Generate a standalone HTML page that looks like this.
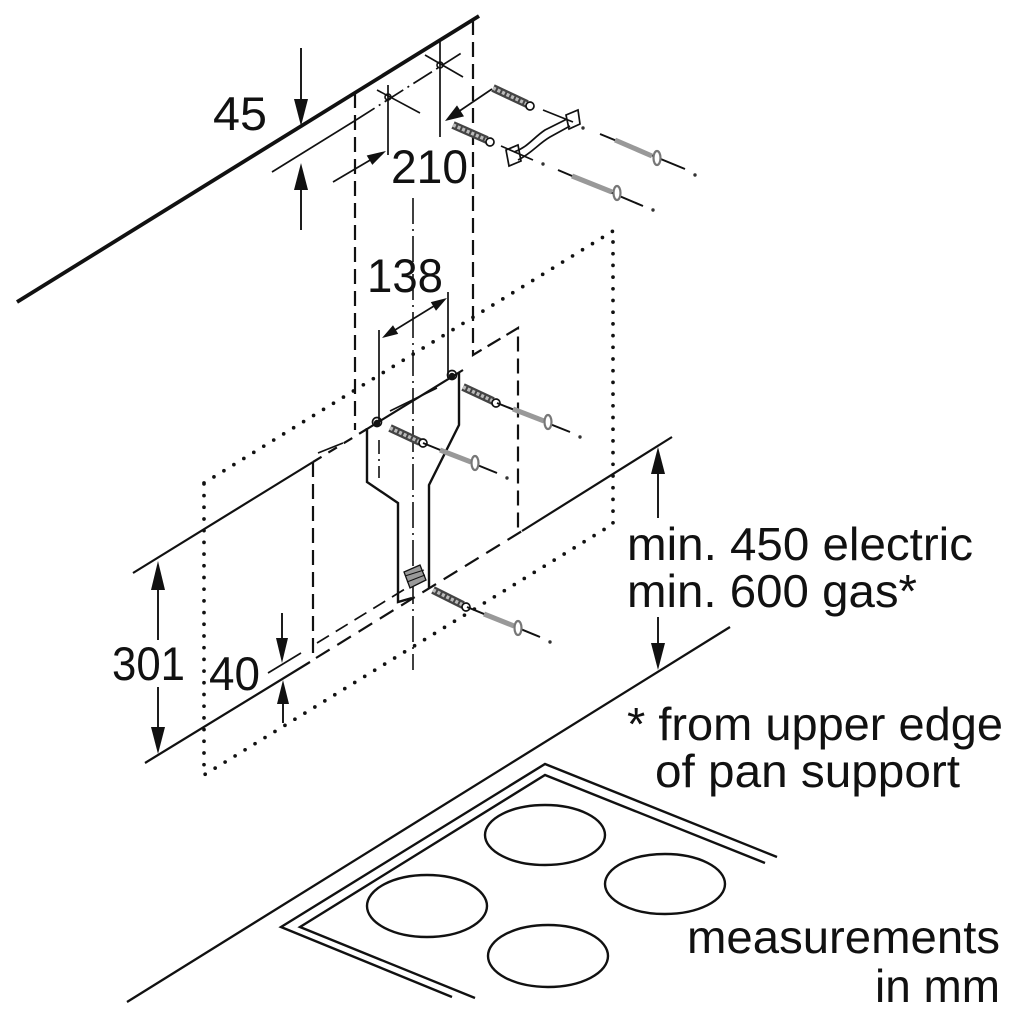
<!DOCTYPE html>
<html>
<head>
<meta charset="utf-8">
<style>
html,body{margin:0;padding:0;background:#fff;}
svg{display:block;}
</style>
</head>
<body>
<svg width="1024" height="1024" viewBox="0 0 1024 1024" xmlns="http://www.w3.org/2000/svg">
<rect width="1024" height="1024" fill="#fff"/>

<g stroke="#111" fill="none" stroke-width="2.2">
  <!-- wall / ceiling line -->
  <line x1="17" y1="302" x2="479" y2="16" stroke-width="3.8"/>

  <!-- 45 dimension -->
  <line x1="301" y1="48" x2="301" y2="104" stroke-width="1.9"/>
  <line x1="301" y1="186" x2="301" y2="230" stroke-width="1.9"/>
  <!-- hole axis line -->
  <line x1="272" y1="172" x2="356" y2="120" stroke-width="1.7"/>
  <line x1="356" y1="120" x2="463" y2="52" stroke-width="1.7" stroke-dasharray="22 5 2 5"/>
  <!-- crosshairs -->
  <line x1="377" y1="90" x2="420" y2="113" stroke-width="1.6"/>
  <line x1="425" y1="55" x2="463" y2="77" stroke-width="1.6"/>
  <line x1="388" y1="85" x2="388" y2="155" stroke-width="1.7"/>
  <line x1="440" y1="40" x2="440" y2="137" stroke-width="1.7"/>
  <circle cx="388" cy="97" r="3" stroke-width="1.6"/>
  <circle cx="440" cy="65" r="3" stroke-width="1.6"/>

  <!-- 210 dimension lines -->
  <line x1="333" y1="182" x2="372" y2="159" stroke-width="1.7"/>
  <line x1="492" y1="89" x2="458" y2="112" stroke-width="1.7"/>

  <!-- dashed chimney outline -->
  <line x1="355" y1="93" x2="355" y2="430" stroke-dasharray="15 7"/>
  <path d="M473,20 V355 L518,328 V530" stroke-dasharray="15 7"/>
  <line x1="313" y1="462" x2="313" y2="660" stroke-dasharray="15 7"/>

  <!-- centre dash-dot -->
  <line x1="413" y1="198" x2="413" y2="670" stroke-width="1.6" stroke-dasharray="26 5 2 5"/>
  <line x1="379" y1="440" x2="379" y2="478" stroke-width="1.6" stroke-dasharray="14 5 2 5"/>

  <!-- 138 dimension -->
  <line x1="379" y1="330" x2="379" y2="425" stroke-width="1.7"/>
  <line x1="448" y1="292" x2="448" y2="378" stroke-width="1.7"/>
  <line x1="395" y1="330" x2="434" y2="306" stroke-width="1.7"/>

  <!-- dotted hood outline -->
  <path d="M204,483 L613,231 L613,524 L204,775 Z" stroke-width="3.7" stroke-linecap="round" stroke-dasharray="0 11.7"/>

  <!-- upper main line (301 top) -->
  <line x1="133" y1="573" x2="313" y2="462"/>
  <line x1="313" y1="462" x2="367" y2="429" stroke-dasharray="10 8"/>
  <line x1="367" y1="429" x2="463" y2="370"/>
  <line x1="390" y1="411" x2="437" y2="388" stroke-width="1.6"/>
  <line x1="318" y1="453" x2="343" y2="443" stroke-width="1.6"/>

  <!-- lower main line (301 bottom) -->
  <line x1="145" y1="763" x2="310" y2="662"/>
  <line x1="316" y1="658" x2="522" y2="531" stroke-dasharray="16 9"/>
  <line x1="522" y1="531" x2="672" y2="437"/>

  <!-- 40 extension line -->
  <line x1="268" y1="673" x2="301" y2="653" stroke-width="1.7"/>
  <line x1="317" y1="643" x2="405" y2="589" stroke-width="1.7" stroke-dasharray="14 8"/>

  <!-- 301 arrows shafts -->
  <line x1="158" y1="588" x2="158" y2="640" stroke-width="1.9"/>
  <line x1="158" y1="687" x2="158" y2="730" stroke-width="1.9"/>
  <!-- 40 arrows shafts -->
  <line x1="282" y1="613" x2="282" y2="642" stroke-width="1.9"/>
  <line x1="283" y1="700" x2="283" y2="723" stroke-width="1.9"/>
  <!-- min 450 arrows shafts -->
  <line x1="658" y1="470" x2="658" y2="518" stroke-width="1.9"/>
  <line x1="658" y1="617" x2="658" y2="648" stroke-width="1.9"/>

  <!-- bracket -->
  <path d="M367,428 L367,482 L398,503 L398,602 L412,598" stroke-width="2.4"/>
  <path d="M459,373 L459,425 L429,485 L429,588" stroke-width="2.4"/>
  <circle cx="377" cy="422" r="4.5" stroke-width="1.7"/>
  <circle cx="452" cy="375" r="4.5" stroke-width="1.7"/>
  <path d="M404,572 L420,565 L426,580 L410,588 Z" fill="#999" stroke-width="1.3"/>
  <line x1="405" y1="576" x2="424" y2="570" stroke-width="1"/>
  <line x1="407" y1="582" x2="425" y2="575" stroke-width="1"/>

  <!-- cooktop -->
  <line x1="127" y1="1002" x2="730" y2="627" stroke-width="2.3"/>
  <path d="M452,997 L281,927 L545,764 L777,857" stroke-width="2.4"/>
  <path d="M475,998 L300,927 L545,775 L765,863" stroke-width="2.4"/>
  <ellipse cx="545" cy="835" rx="60" ry="30" stroke-width="2.4"/>
  <ellipse cx="427" cy="906" rx="60" ry="31" stroke-width="2.4"/>
  <ellipse cx="548" cy="956" rx="60" ry="31" stroke-width="2.4"/>
  <ellipse cx="665" cy="884" rx="60" ry="30" stroke-width="2.4"/>
</g>

<!-- arrowheads -->
<g fill="#111" stroke="none">
  <polygon points="301,126 294,99 308,99"/>
  <polygon points="301,163 294,190 308,190"/>
  <polygon points="158,561 151,590 165,590"/>
  <polygon points="158,754 151,727 165,727"/>
  <polygon points="282,663 276,638 288,638"/>
  <polygon points="283,680 277,704 289,704"/>
  <polygon points="658,447 651,474 665,474"/>
  <polygon points="658,670 651,643 665,643"/>
  <!-- 210 -->
  <polygon points="386,151 372.3,164.9 366.7,155.5"/>
  <polygon points="445,121 464.0,116.4 457.0,105.4"/>
  <!-- 138 -->
  <polygon points="382,338 398.2,333.9 393.0,325.3"/>
  <polygon points="447,298 436.0,310.7 430.8,302.1"/>
  <!-- hole blobs -->
  <circle cx="377" cy="423" r="3.2"/>
  <circle cx="452" cy="376" r="3.2"/>
</g>

<!-- screws and dowels -->
<g stroke-linecap="butt">
  <!-- dowels: dark outline + light core -->
  <g stroke="#444" stroke-width="8">
    <line x1="493" y1="88" x2="527" y2="104"/>
    <line x1="453" y1="125" x2="487" y2="140"/>
    <line x1="463" y1="387" x2="493" y2="401"/>
    <line x1="390" y1="428" x2="420" y2="442"/>
    <line x1="433" y1="590" x2="463" y2="605"/>
  </g>
  <g stroke="#bbb" stroke-width="3.5" stroke-dasharray="3 2">
    <line x1="493" y1="88" x2="527" y2="104"/>
    <line x1="453" y1="125" x2="487" y2="140"/>
    <line x1="463" y1="387" x2="493" y2="401"/>
    <line x1="390" y1="428" x2="420" y2="442"/>
    <line x1="433" y1="590" x2="463" y2="605"/>
  </g>
  <g fill="#fff" stroke="#111" stroke-width="1.7">
    <circle cx="530" cy="106" r="4"/>
    <circle cx="490" cy="142" r="4"/>
    <circle cx="496" cy="403" r="4"/>
    <circle cx="423" cy="443" r="4"/>
    <circle cx="466" cy="607" r="4"/>
  </g>

  <g stroke="#111" fill="none" stroke-width="1.7">
    <path d="M506,150 L518,145 L521,161 L509,166 Z"/>
    <path d="M566,115 L578,110 L580,124 L569,129 Z"/>
    <path d="M514,152 C528,147 533,138 545,130 L567,119"/>
    <path d="M518,160 C532,153 538,144 550,137 L570,126"/>
    <line x1="543" y1="110" x2="573" y2="122"/>
    <line x1="501" y1="146" x2="533" y2="160"/>
    <line x1="600" y1="134" x2="685" y2="169" stroke-width="2"/>
    <line x1="558" y1="170" x2="643" y2="206" stroke-width="2"/>
    <line x1="497" y1="403" x2="570" y2="432" stroke-width="2"/>
    <line x1="423" y1="443" x2="497" y2="473" stroke-width="2"/>
    <line x1="467" y1="607" x2="540" y2="637" stroke-width="2"/>
  </g>
  <g stroke="#999" stroke-width="5">
    <line x1="615" y1="140" x2="652" y2="156"/>
    <line x1="572" y1="176" x2="612" y2="192"/>
    <line x1="513" y1="409" x2="544" y2="421"/>
    <line x1="440" y1="450" x2="471" y2="462"/>
    <line x1="484" y1="614" x2="514" y2="626"/>
  </g>
  <g fill="#fff" stroke="#777" stroke-width="2.2">
    <ellipse cx="657" cy="158" rx="3.5" ry="7"/>
    <ellipse cx="617" cy="193" rx="3.5" ry="7"/>
    <ellipse cx="548" cy="422" rx="3.5" ry="7"/>
    <ellipse cx="475" cy="463" rx="3.5" ry="7"/>
    <ellipse cx="518" cy="628" rx="3.5" ry="7"/>
  </g>
  <!-- dots -->
  <g fill="#333">
    <circle cx="583" cy="128" r="1.7"/>
    <circle cx="695" cy="175" r="1.7"/>
    <circle cx="543" cy="164" r="1.7"/>
    <circle cx="653" cy="210" r="1.7"/>
    <circle cx="580" cy="437" r="1.7"/>
    <circle cx="507" cy="478" r="1.7"/>
    <circle cx="550" cy="642" r="1.7"/>
  </g>
</g>

<!-- labels -->
<g font-family="'Liberation Sans', Arial, sans-serif" fill="#111" font-size="47">
  <text x="213" y="130" textLength="54" lengthAdjust="spacingAndGlyphs">45</text>
  <text x="391" y="183" textLength="77" lengthAdjust="spacingAndGlyphs">210</text>
  <text x="367" y="292" textLength="76" lengthAdjust="spacingAndGlyphs">138</text>
  <text x="112" y="680" textLength="73" lengthAdjust="spacingAndGlyphs">301</text>
  <text x="209" y="690" textLength="51" lengthAdjust="spacingAndGlyphs">40</text>
</g>
<g font-family="'Liberation Sans', Arial, sans-serif" fill="#111" font-size="46">
  <text x="627" y="560" textLength="346" lengthAdjust="spacingAndGlyphs">min. 450 electric</text>
  <text x="627" y="607" textLength="290" lengthAdjust="spacingAndGlyphs">min. 600 gas*</text>
  <text x="627" y="740" textLength="376" lengthAdjust="spacingAndGlyphs">* from upper edge</text>
  <text x="655" y="787" textLength="305" lengthAdjust="spacingAndGlyphs">of pan support</text>
  <text x="687" y="953" textLength="313" lengthAdjust="spacingAndGlyphs">measurements</text>
  <text x="875" y="1002" textLength="125" lengthAdjust="spacingAndGlyphs">in mm</text>
</g>
</svg>
</body>
</html>
